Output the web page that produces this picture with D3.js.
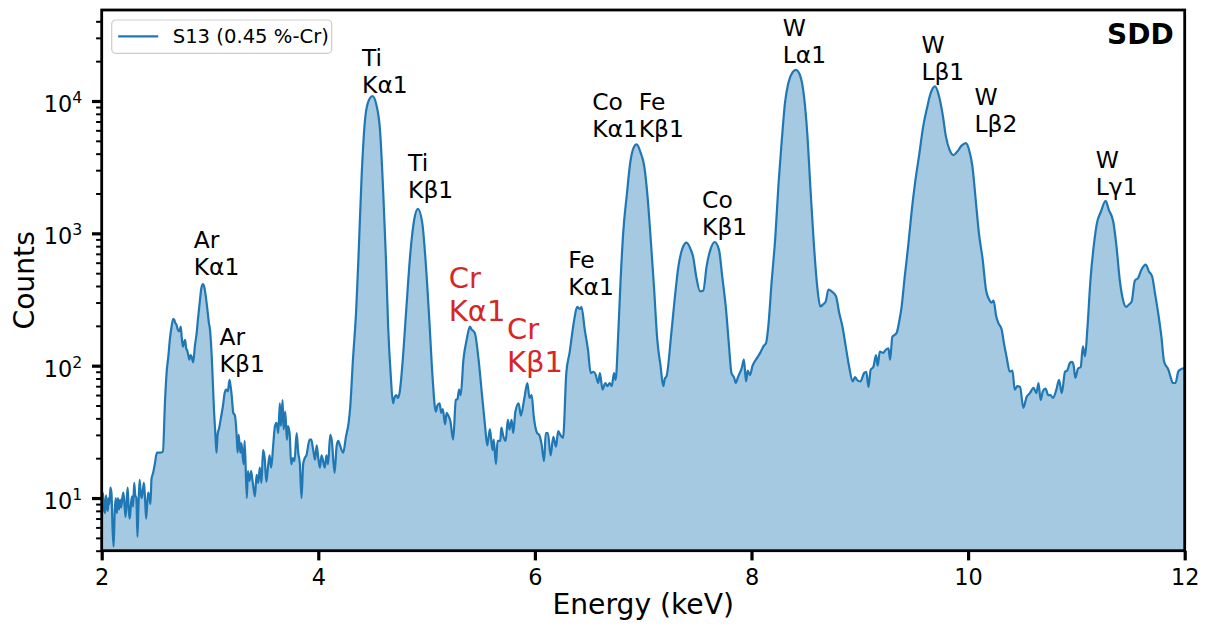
<!DOCTYPE html>
<html>
  <head>
    <meta charset="utf-8">
    <!-- Load D3 from site -->
    <script src="https://d3js.org/d3.v7.min.js"></script>

    <style type="text/css">
    body {
      margin: 0;
      background: #fff;
    }
    svg text {
      font-family: "DejaVu Sans", sans-serif;
      fill: #000;
    }
    </style>
  </head>

  <body>

  <script type="text/javascript">

  /* Spectrum: [energy (keV), counts] */
  var spectrum = [
    [2.000,5],[2.008,11],[2.016,10],[2.024,8],[2.032,7.7],[2.040,10.5],[2.048,9],[2.056,8],
    [2.064,10],[2.072,9],[2.080,12],[2.090,11],[2.100,6],[2.110,4.3],[2.120,8],[2.130,10],
    [2.140,7.7],[2.150,10],[2.160,8.2],[2.170,9.7],[2.180,8.5],[2.190,10],[2.200,11],[2.210,9],
    [2.220,7.2],[2.230,9.5],[2.240,12],[2.250,8],[2.260,7],[2.270,9],[2.280,10.3],[2.290,8.6],
    [2.300,13],[2.310,10.5],[2.320,10],[2.330,5.1],[2.340,9],[2.350,13.7],[2.360,11],[2.370,10],
    [2.380,11.5],[2.390,13],[2.400,10],[2.410,7],[2.420,9],[2.430,11],[2.440,10.3],[2.450,9],
    [2.460,14],[2.475,15.5],[2.490,18],[2.510,22],[2.540,22],[2.565,22.5],
    [2.585,55],[2.600,90],[2.615,117],[2.630,160],[2.645,197],[2.660,226],[2.670,222],[2.680,210],
    [2.690,204],[2.700,190],[2.715,182],[2.730,197],[2.740,160],[2.750,139],[2.760,150],[2.770,157],
    [2.780,135],[2.790,130],[2.800,120],[2.810,111],[2.820,120],[2.830,117],[2.845,106],[2.860,140],
    [2.877,177],[2.890,230],[2.905,300],[2.920,385],[2.935,414],[2.945,400],[2.960,340],[2.975,270],
    [2.990,210],[3.000,187],[3.020,100],[3.035,50],[3.050,30],[3.060,22],[3.070,30],[3.085,34],
    [3.100,40],[3.120,50],[3.135,62],[3.150,66],[3.165,64],[3.180,78],[3.190,70],[3.200,60],
    [3.215,44],[3.230,42],[3.245,31],[3.255,22],[3.265,30],[3.280,22],[3.290,26],[3.310,18],
    [3.320,27],[3.340,10],[3.350,16],[3.365,13.5],[3.380,16],[3.390,14],[3.400,12.2],[3.415,10.3],
    [3.430,15],[3.445,13],[3.460,17],[3.475,13],[3.490,23],[3.505,20],[3.520,13.3],[3.535,17],
    [3.550,21],[3.565,17],[3.585,26],[3.600,35],[3.615,37],[3.630,31],[3.645,52],[3.655,35],
    [3.670,55],[3.680,33],[3.695,45],[3.710,27.6],[3.720,35],[3.735,31],[3.750,18],[3.765,20],
    [3.780,19],[3.800,31],[3.815,22],[3.830,18],[3.845,10],[3.860,18],[3.875,20],[3.890,21],
    [3.920,27.6],[3.935,27.6],[3.950,24],[3.970,19.5],[3.985,25],[4.000,20],[4.015,17],[4.030,21],
    [4.060,17],[4.075,21],[4.090,18],[4.110,30],[4.125,27],[4.150,15.5],[4.170,25],[4.185,27],
    [4.200,25],[4.230,22],[4.255,29],[4.280,37],[4.295,49],[4.320,111],[4.350,265],[4.370,630],
    [4.400,2700],[4.430,7000],[4.460,9800],[4.500,10900],[4.540,9100],[4.570,6000],[4.600,2000],[4.625,630],
    [4.645,197],[4.670,82],[4.690,52],[4.705,58],[4.720,60],[4.735,57],[4.750,62],[4.780,111],
    [4.810,250],[4.850,710],[4.885,1260],[4.920,1530],[4.960,1200],[4.990,630],[5.025,222],[5.055,82],
    [5.085,45],[5.100,50],[5.120,52],[5.135,44],[5.150,47],[5.170,36],[5.185,44],[5.200,42],
    [5.220,38],[5.245,27.6],[5.270,55],[5.285,56],[5.300,66],[5.315,60],[5.340,111],[5.370,157],
    [5.400,197],[5.415,188],[5.445,177],[5.480,111],[5.510,62],[5.540,35],[5.560,25],[5.575,30],
    [5.585,33],[5.600,26],[5.610,23],[5.620,27.6],[5.640,18],[5.655,27],[5.680,27],[5.690,34],
    [5.710,29],[5.730,27],[5.750,39],[5.765,33],[5.785,39],[5.800,31],[5.820,45],[5.850,52],
    [5.870,42],[5.900,55],[5.930,74],[5.950,57],[5.970,60],[5.990,41],[6.020,31],[6.040,30],
    [6.060,26],[6.085,19],[6.100,31],[6.120,31],[6.145,21],[6.170,29],[6.195,24.5],[6.215,32],
    [6.235,30],[6.260,28.5],[6.290,88],[6.320,125],[6.360,215],[6.390,278],[6.415,268],[6.430,278],
    [6.460,188],[6.490,132],[6.515,88],[6.540,90],[6.560,86],[6.585,74],[6.600,88],[6.625,66],
    [6.650,74],[6.670,70],[6.690,74],[6.710,70],[6.730,88],[6.745,78],[6.770,177],[6.790,420],
    [6.815,1000],[6.850,2000],[6.880,3400],[6.910,4400],[6.940,4700],[6.975,4100],[7.010,3200],[7.040,1900],
    [7.070,890],[7.100,390],[7.130,157],[7.160,100],[7.185,70],[7.200,80],[7.215,83],[7.260,177],
    [7.290,315],[7.325,560],[7.365,780],[7.400,850],[7.440,750],[7.460,670],[7.490,470],[7.525,365],
    [7.555,370],[7.585,560],[7.620,750],[7.660,860],[7.700,750],[7.730,470],[7.765,265],[7.790,149],
    [7.815,88],[7.840,81],[7.855,74],[7.875,82],[7.910,96],[7.930,111],[7.950,76],[7.965,92],
    [7.985,85],[8.010,100],[8.050,114],[8.080,125],[8.110,140],[8.135,149],[8.155,197],[8.185,420],
    [8.220,940],[8.250,2400],[8.280,5100],[8.310,9800],[8.340,13700],[8.380,16500],[8.410,17200],[8.450,15500],
    [8.485,10800],[8.515,5700],[8.545,2130],[8.575,850],[8.610,375],[8.635,280],[8.660,290],[8.685,305],
    [8.710,375],[8.740,365],[8.780,335],[8.810,250],[8.840,197],[8.870,140],[8.900,100],[8.935,76],
    [8.955,82],[8.975,78],[9.005,76],[9.040,88],[9.060,90],[9.080,69],[9.100,93],[9.125,98],
    [9.150,120],[9.165,100],[9.185,128],[9.215,125],[9.240,132],[9.265,135],[9.280,111],[9.300,165],
    [9.340,177],[9.370,230],[9.385,275],[9.415,470],[9.450,850],[9.480,1500],[9.510,2400],[9.550,4000],
    [9.585,6400],[9.620,8800],[9.655,11500],[9.695,12900],[9.730,11000],[9.765,7900],[9.795,5400],[9.830,4250],
    [9.865,3900],[9.900,4150],[9.940,4600],[9.980,4800],[10.010,4250],[10.040,3200],[10.070,1800],[10.100,1000],
    [10.135,630],[10.165,375],[10.195,315],[10.215,300],[10.235,310],[10.260,235],[10.280,210],[10.310,188],
    [10.330,149],[10.355,117],[10.385,90],[10.410,92],[10.430,66],[10.455,70],[10.480,69],[10.510,48],
    [10.540,58],[10.570,62],[10.605,68],[10.630,62],[10.650,74],[10.670,55],[10.690,64],[10.715,67],
    [10.740,60],[10.760,60],[10.785,57],[10.815,66],[10.840,78],[10.865,62],[10.895,90],[10.915,92],
    [10.940,105],[10.960,107],[10.975,100],[10.990,81],[11.015,95],[11.040,98],[11.060,140],[11.080,118],
    [11.100,183],[11.130,446],[11.160,800],[11.190,1200],[11.225,1450],[11.270,1760],[11.300,1500],[11.340,1230],
    [11.370,800],[11.400,446],[11.430,315],[11.460,278],[11.485,290],[11.510,305],[11.540,440],[11.570,460],
    [11.600,530],[11.640,580],[11.670,515],[11.700,470],[11.725,355],[11.755,250],[11.785,165],[11.810,107],
    [11.850,93],[11.870,82],[11.890,74],[11.915,74],[11.940,90],[11.955,93],[12.000,96]
  ];

  var xTicks = [2, 4, 6, 8, 10, 12];
  var yTicks = [10, 100, 1000, 10000];
  var yExponents = ["1", "2", "3", "4"];

  // peak labels: element, line, energy of left edge, counts at baseline of the lower line
  var labelElements = ["Ar", "Ar", "Ti", "Ti", "Cr", "Cr", "Fe", "Co", "Fe", "Co", "W", "W", "W", "W"];
  var labelLines = ["Kα1", "Kβ1", "Kα1", "Kβ1", "Kα1", "Kβ1", "Kα1", "Kα1", "Kβ1", "Kβ1", "Lα1", "Lβ1", "Lβ2", "Lγ1"];
  var labelEnergy = [2.86, 3.10, 4.415, 4.84, 5.216, 5.754, 6.318, 6.54, 6.97, 7.555, 8.30, 9.58, 10.07, 11.19];
  var labelCounts = [486, 89, 11560, 1860, 216, 89, 343, 5380, 5380, 975, 19300, 14450, 5870, 1950];
  var highlighted = ["Cr"];

  var seriesName = "S13 (0.45 %-Cr)";
  var detectorName = "SDD";

  /* Layout */
  var W = 1207, H = 626;
  var margin = {top: 10, right: 22.3, bottom: 75.3, left: 101.7};
  var width = W - margin.left - margin.right;
  var height = H - margin.top - margin.bottom;

  var blue = "#1f77b4";
  var red = "#d62728";

  var svg = d3.select("body").append("svg")
    .attr("width", W)
    .attr("height", H);

  var g = svg.append("g")
    .attr("transform", "translate(" + margin.left + "," + margin.top + ")");

  var x = d3.scaleLinear().domain([2, 12]).range([0, width]);
  var y = d3.scaleLog().domain([4, 48700]).range([height, 0]);

  g.append("clipPath").attr("id", "plot-clip")
    .append("rect")
    .attr("width", width)
    .attr("height", height);

  var area = d3.area()
    .x(function(d) { return x(d[0]); })
    .y0(height)
    .y1(function(d) { return y(d[1]); })
    .curve(d3.curveMonotoneX);

  var line = d3.line()
    .x(function(d) { return x(d[0]); })
    .y(function(d) { return y(d[1]); })
    .curve(d3.curveMonotoneX);

  g.append("path")
    .datum(spectrum)
    .attr("d", area)
    .attr("fill", blue)
    .attr("fill-opacity", 0.4)
    .attr("clip-path", "url(#plot-clip)");

  g.append("path")
    .datum(spectrum)
    .attr("d", line)
    .attr("fill", "none")
    .attr("stroke", blue)
    .attr("stroke-width", 2.2)
    .attr("stroke-linejoin", "round")
    .attr("clip-path", "url(#plot-clip)");

  /* Axes */
  var xAxis = d3.axisBottom(x)
    .tickValues(xTicks)
    .tickFormat(d3.format("d"))
    .tickSize(9.7)
    .tickPadding(9);

  var gx = g.append("g")
    .attr("transform", "translate(0," + height + ")")
    .call(xAxis);
  gx.select(".domain").remove();
  gx.selectAll(".tick line").attr("stroke", "#000").attr("stroke-width", 3.2);
  gx.selectAll(".tick text")
    .attr("font-size", 22.4)
    .attr("font-family", "DejaVu Sans");

  // minor log ticks
  var minorTicks = [];
  [1, 10, 100, 1000, 10000].forEach(function(dec) {
    for (var k = 2; k <= 9; k++) {
      var v = k * dec;
      if (v >= 4 && v <= 48700) minorTicks.push(v);
    }
  });

  var gyMinor = g.append("g")
    .call(d3.axisLeft(y).tickValues(minorTicks).tickFormat("").tickSize(5.6));
  gyMinor.select(".domain").remove();
  gyMinor.selectAll(".tick line").attr("stroke", "#000").attr("stroke-width", 2);

  var gy = g.append("g")
    .call(d3.axisLeft(y).tickValues(yTicks).tickFormat("").tickSize(9.7));
  gy.select(".domain").remove();
  gy.selectAll(".tick line").attr("stroke", "#000").attr("stroke-width", 3.2);

  // 10^n labels with superscript
  yTicks.forEach(function(t, i) {
    var txt = g.append("text")
      .attr("x", -19.5)
      .attr("y", y(t) + 11)
      .attr("text-anchor", "end")
      .attr("font-size", 22.4);
    txt.append("tspan").text("10");
    txt.append("tspan")
      .attr("dy", -9)
      .attr("font-size", 15.7)
      .text(yExponents[i]);
  });

  // frame
  g.append("rect")
    .attr("width", width)
    .attr("height", height)
    .attr("fill", "none")
    .attr("stroke", "#000")
    .attr("stroke-width", 2.8);

  /* Axis titles */
  svg.append("text")
    .attr("x", margin.left + width / 2)
    .attr("y", 614)
    .attr("text-anchor", "middle")
    .attr("font-size", 28.2)
    .text("Energy (keV)");

  svg.append("text")
    .attr("transform", "translate(33.5," + (margin.top + height / 2) + ") rotate(-90)")
    .attr("text-anchor", "middle")
    .attr("font-size", 28.2)
    .text("Counts");

  /* Peak labels */
  labelElements.forEach(function(el, i) {
    var isRed = highlighted.indexOf(el) >= 0;
    var fs = isRed ? 29 : 23.4;
    var lineGap = isRed ? 33.4 : 27;
    var lx = x(labelEnergy[i]) - 1.2;
    var ly = y(labelCounts[i]);
    var t = g.append("text")
      .attr("font-size", fs)
      .style("fill", isRed ? red : "#000");
    t.append("tspan").attr("x", lx).attr("y", ly - lineGap).text(el);
    t.append("tspan").attr("x", lx).attr("y", ly).text(labelLines[i]);
  });

  /* Detector tag */
  g.append("text")
    .attr("x", width - 11)
    .attr("y", 33.5)
    .attr("text-anchor", "end")
    .attr("font-size", 28)
    .attr("font-weight", "bold")
    .text(detectorName);

  /* Legend */
  var legend = g.append("g").attr("transform", "translate(10,10)");
  legend.append("rect")
    .attr("width", 220)
    .attr("height", 33.3)
    .attr("rx", 4)
    .attr("fill", "#fff")
    .attr("fill-opacity", 0.8)
    .attr("stroke", "#cccccc")
    .attr("stroke-width", 1.2);
  legend.append("line")
    .attr("x1", 6.5).attr("x2", 46.5)
    .attr("y1", 16.3).attr("y2", 16.3)
    .attr("stroke", blue)
    .attr("stroke-width", 2.2);
  legend.append("text")
    .attr("x", 61)
    .attr("y", 23.3)
    .attr("font-size", 19.6)
    .text(seriesName);

  </script>

  </body>
</html>
